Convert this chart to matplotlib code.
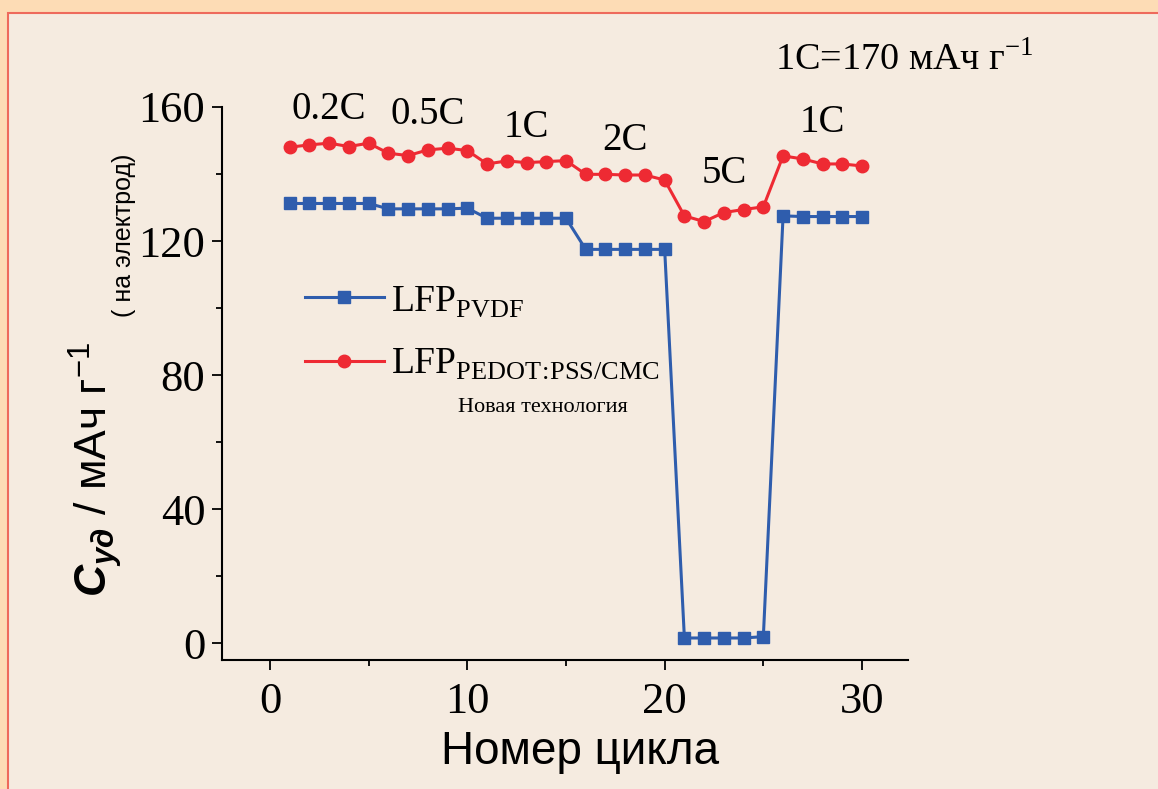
import matplotlib
matplotlib.use('Agg')
import matplotlib.pyplot as plt
from matplotlib.patches import Rectangle

# cycle numbers
cycles = list(range(1, 31))

# LFP with PVDF binder, mAh/g
cap_pvdf = [131.2, 131.2, 131.2, 131.2, 131.2,
            129.6, 129.6, 129.6, 129.6, 129.8,
            126.8, 126.8, 126.8, 126.8, 126.8,
            117.5, 117.5, 117.5, 117.5, 117.5,
            1.5, 1.5, 1.5, 1.5, 1.9,
            127.5, 127.3, 127.3, 127.3, 127.3]

# LFP with PEDOT:PSS/CMC binder, mAh/g
cap_pedot = [148.0, 148.7, 149.2, 148.2, 149.2,
             146.2, 145.5, 147.2, 147.7, 147.0,
             143.0, 143.9, 143.4, 143.7, 144.0,
             139.9, 139.9, 139.7, 139.7, 138.2,
             127.5, 125.8, 128.5, 129.4, 130.2,
             145.4, 144.5, 143.0, 143.0, 142.4]

# C-rate steps (5 cycles each)
rate_labels = ['0.2C', '0.5C', '1C', '2C', '5C', '1C']
steps = 5

plt.rcParams['font.family'] = 'Liberation Serif'
plt.rcParams['mathtext.fontset'] = 'custom'
plt.rcParams['mathtext.rm'] = 'Liberation Serif'
plt.rcParams['mathtext.sf'] = 'Liberation Sans'
plt.rcParams['mathtext.it'] = 'Liberation Sans:italic:bold'

fig = plt.figure(figsize=(11.58, 7.89), dpi=100)
fig.patch.set_facecolor('#FDDCB5')
fig.add_artist(Rectangle((8 / 1158, -0.1), 1.2, (789 - 13) / 789 + 0.1,
                         transform=fig.transFigure, facecolor='#F5EBE0',
                         edgecolor='#EE6A5C', lw=1.5, zorder=-5))

ax = fig.add_axes([222 / 1158, 1 - 660 / 789, 686 / 1158, 553 / 789])
ax.set_facecolor('none')

blue = '#2F5DAD'
red = '#EE2A33'
ax.plot(cycles, cap_pvdf, color=blue, lw=2.2, marker='s', ms=8.5,
        label=r'LFP$_{\mathrm{PVDF}}$')
ax.plot(cycles, cap_pedot, color=red, lw=2.2, marker='o', ms=9,
        label=r'LFP$_{\mathrm{PEDOT\!:\!PSS/CMC}}$')

# rate labels above each block of red points
for i, lab in enumerate(rate_labels):
    block_x = cycles[i * steps:(i + 1) * steps]
    block_y = cap_pedot[i * steps:(i + 1) * steps]
    ax.text(sum(block_x) / steps, max(block_y) + 10, lab, fontsize=28,
            ha='center', va='center')

ax.set_xlim(-2.43, 32.33)
ax.set_ylim(-5.07, 160)
ax.set_xticks([0, 10, 20, 30])
ax.set_xticks([5, 15, 25], minor=True)
ax.set_yticks([0, 40, 80, 120, 160])
ax.set_yticks([20, 60, 100, 140], minor=True)
ax.tick_params(which='major', direction='out', length=7, width=1.3,
               labelsize=32, pad=5)
ax.tick_params(axis='x', which='major', pad=9)
ax.tick_params(which='minor', direction='out', length=4.5, width=1.3)
for s in ['top', 'right']:
    ax.spines[s].set_visible(False)
for s in ['left', 'bottom']:
    ax.spines[s].set_linewidth(1.5)

ax.set_xlabel('Номер цикла', family='Liberation Sans', fontsize=33, va='center')
ax.xaxis.set_label_coords(0.522, -0.166)
ax.set_ylabel(r'$\mathit{C}_{\mathit{уд}}$ / мАч г$^{\mathsf{-1}}$',
              family='Liberation Sans', fontsize=32, va='center')
ax.yaxis.set_label_coords(-0.185, 0.345)
fig.text(124 / 1158, 1 - 235 / 789, '( на электрод)', family='Liberation Sans',
         fontsize=18, rotation=90, ha='center', va='center')

leg = ax.legend(loc='upper left', bbox_to_anchor=(0.121, 0.68), frameon=False,
                fontsize=27, handlelength=2.1, handletextpad=0.2,
                borderpad=0, borderaxespad=0, labelspacing=0.75)
ax.text(458 / 1158, 1 - 407 / 789, 'Новая технология', transform=fig.transFigure,
        fontsize=16, va='center', ha='left')

fig.text(775 / 1158, 1 - 60 / 789, r'1C=170 мАч г$^{\mathrm{-1}}$', fontsize=27.5,
         va='center', ha='left')

fig.savefig('out.png', dpi=100, facecolor=fig.get_facecolor())
